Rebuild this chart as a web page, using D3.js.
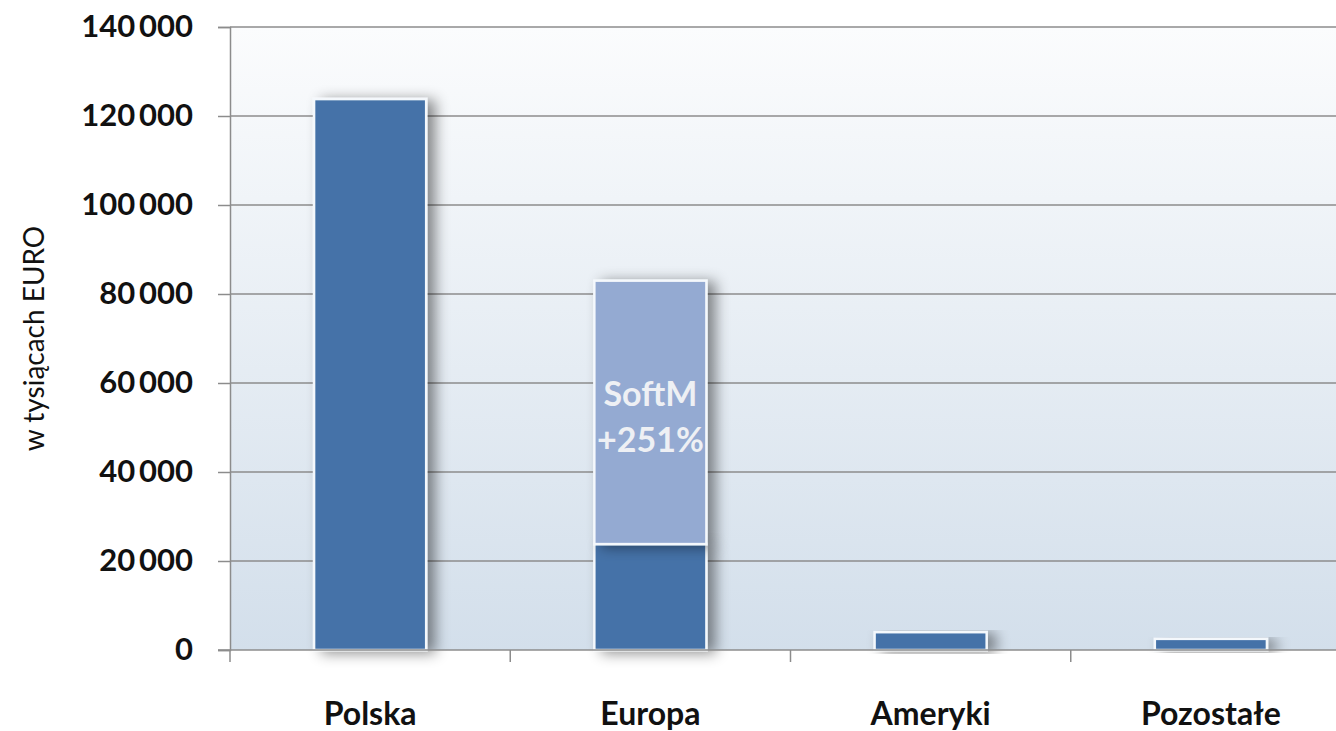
<!DOCTYPE html>
<html>
<head>
<meta charset="utf-8">
<script src="https://cdn.jsdelivr.net/npm/d3@7"></script>
<style>
  body { margin: 0; background: #fff; }
  svg { display: block; }
  svg text { font-family: Lato, "Open Sans", sans-serif; }
</style>
</head>
<body>
<div id="chart"></div>
<script>
// categories and values (thousands EUR)
const categories = ["Polska", "Europa", "Ameryki", "Pozostałe"];
const baseValues = [123800, 23800, 4000, 2500];
const softmValues = [0, 59200, 0, 0];
const yTicks = [0, 20000, 40000, 60000, 80000, 100000, 120000, 140000];
const softmLabel = ["SoftM", "+251%"];

const width = 1336, height = 731;
const margin = { top: 27, right: -15, bottom: 81, left: 230 };

const svg = d3.select("#chart").append("svg")
  .attr("width", width)
  .attr("height", height);

const defs = svg.append("defs");
const bg = defs.append("linearGradient").attr("id", "bg")
  .attr("x1", 0).attr("y1", 0).attr("x2", 0).attr("y2", 1);
bg.append("stop").attr("offset", "0%").attr("stop-color", "#fbfcfd");
bg.append("stop").attr("offset", "100%").attr("stop-color", "#d3dfeb");

const shadow = defs.append("filter").attr("id", "shadow")
  .attr("x", "-20%").attr("y", "-10%").attr("width", "160%").attr("height", "130%");
shadow.append("feDropShadow")
  .attr("dx", 8).attr("dy", 2).attr("stdDeviation", 7)
  .attr("flood-color", "#000").attr("flood-opacity", 0.45);

const x = d3.scaleBand()
  .domain(categories)
  .range([margin.left, width - margin.right])
  .paddingInner(0.6)
  .paddingOuter(0.3);

const y = d3.scaleLinear()
  .domain([0, 140000])
  .range([height - margin.bottom, margin.top]);

// plot background
svg.append("rect")
  .attr("x", margin.left)
  .attr("y", y(140000))
  .attr("width", width - margin.left)
  .attr("height", y(0) - y(140000))
  .attr("fill", "url(#bg)");

// gridlines + y axis
const fmt = d => d3.format(",")(d).replace(/,/g, "\u2009");
const yAxis = svg.append("g")
  .attr("transform", `translate(${margin.left},0)`)
  .call(d3.axisLeft(y).tickValues(yTicks).tickFormat(fmt).tickSize(12).tickPadding(25));
yAxis.select(".domain").attr("stroke", "#8c8c8c").attr("stroke-width", 1.5);
yAxis.selectAll(".tick line").attr("stroke", "#8c8c8c").attr("stroke-width", 1.5);
yAxis.selectAll(".tick text")
  .attr("fill", "#111")
  .style("font-size", "31px")
  .style("font-weight", "bold");

svg.append("g")
  .selectAll("line")
  .data(yTicks.filter(d => d > 0))
  .enter().append("line")
  .attr("x1", margin.left).attr("x2", width)
  .attr("y1", d => y(d)).attr("y2", d => y(d))
  .attr("stroke", "#8c8c8c").attr("stroke-width", 1.5);

// bars
const bars = svg.append("g");
bars.selectAll(".base")
  .data(categories)
  .enter().append("rect")
  .attr("class", "base")
  .attr("x", d => x(d))
  .attr("width", x.bandwidth())
  .attr("y", (d, i) => y(baseValues[i]))
  .attr("height", (d, i) => y(0) - y(baseValues[i]))
  .attr("fill", "#4472a8")
  .attr("stroke", "#f4f8fc")
  .attr("stroke-width", 2.5)
  .attr("filter", "url(#shadow)");

bars.selectAll(".softm")
  .data(categories.filter((d, i) => softmValues[i] > 0))
  .enter().append("rect")
  .attr("class", "softm")
  .attr("x", d => x(d))
  .attr("width", x.bandwidth())
  .attr("y", d => { const i = categories.indexOf(d); return y(baseValues[i] + softmValues[i]); })
  .attr("height", d => { const i = categories.indexOf(d); return y(baseValues[i]) - y(baseValues[i] + softmValues[i]); })
  .attr("fill", "#94aad2")
  .attr("stroke", "#f4f8fc")
  .attr("stroke-width", 2.5)
  .attr("filter", "url(#shadow)");

// SoftM label
const ei = categories.indexOf("Europa");
const midY = (y(baseValues[ei]) + y(baseValues[ei] + softmValues[ei])) / 2;
svg.append("text")
  .attr("x", x("Europa") + x.bandwidth() / 2)
  .attr("y", midY - 6)
  .attr("text-anchor", "middle")
  .attr("fill", "#eef0f4")
  .style("font-size", "34px")
  .style("font-weight", "bold")
  .selectAll("tspan")
  .data(softmLabel)
  .enter().append("tspan")
  .attr("x", x("Europa") + x.bandwidth() / 2)
  .attr("dy", (d, i) => i === 0 ? 0 : 46)
  .text(d => d);

// x axis
svg.append("line")
  .attr("x1", margin.left - 12).attr("x2", width)
  .attr("y1", y(0)).attr("y2", y(0))
  .attr("stroke", "#8c8c8c").attr("stroke-width", 1.5);

const step = x.step();
svg.append("g")
  .selectAll("line")
  .data(categories)
  .enter().append("line")
  .attr("x1", d => x(d) - x.paddingInner() * step / 2)
  .attr("x2", d => x(d) - x.paddingInner() * step / 2)
  .attr("y1", y(0)).attr("y2", y(0) + 12)
  .attr("stroke", "#8c8c8c").attr("stroke-width", 1.5);

svg.append("g")
  .selectAll("text")
  .data(categories)
  .enter().append("text")
  .attr("x", d => x(d) + x.bandwidth() / 2)
  .attr("y", 725)
  .attr("text-anchor", "middle")
  .attr("fill", "#111")
  .style("font-size", "32px")
  .style("font-weight", "bold")
  .text(d => d);

// y title
svg.append("text")
  .attr("transform", `translate(44, ${(y(0) + y(140000)) / 2}) rotate(-90)`)
  .attr("text-anchor", "middle")
  .attr("fill", "#111")
  .style("font-size", "28px")
  .text("w tysiącach EURO");
</script>
</body>
</html>
